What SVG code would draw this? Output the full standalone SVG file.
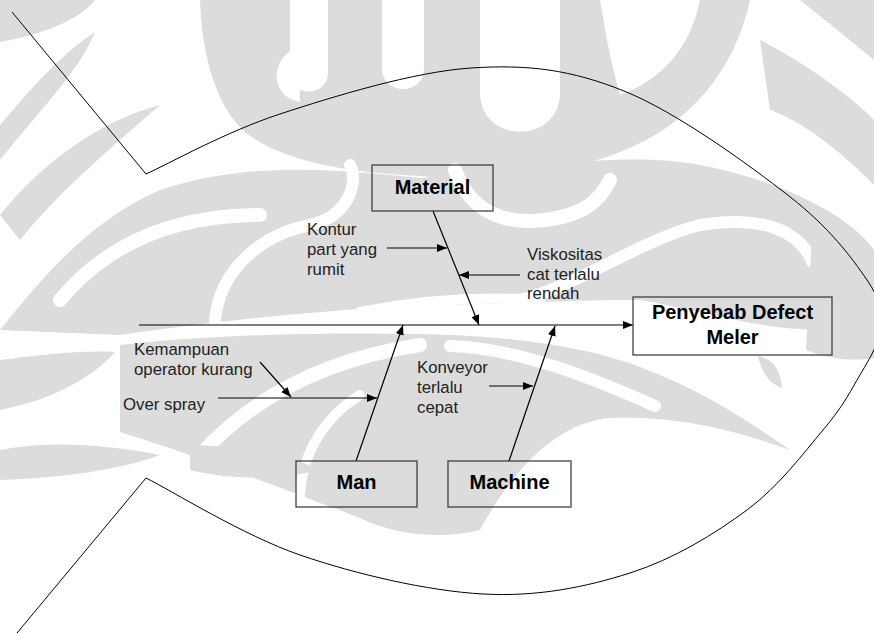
<svg xmlns="http://www.w3.org/2000/svg" width="874" height="634" viewBox="0 0 874 634">
  <defs>
    <marker id="arrow" viewBox="0 0 10 8" refX="10" refY="4" markerWidth="10" markerHeight="8" markerUnits="userSpaceOnUse" orient="auto">
      <path d="M0,0 L10,4 L0,8 Z" fill="#000"/>
    </marker>
    <style>
      .wm { fill: #dcdcdc; stroke: none; }
      .wm-gap { fill: none; stroke: #fff; stroke-linecap: round; }
      .wm-cut { fill: #fff; stroke: none; }
      .outline { fill: none; stroke: #000; stroke-width: 1; }
      .bone { fill: none; stroke: #000; stroke-width: 1.2; marker-end: url(#arrow); }
      .box { fill: none; stroke: #333; stroke-width: 1.2; }
      .title { font-family: "Liberation Sans", Arial, sans-serif; font-weight: bold; font-size: 20px; fill: #000; text-anchor: middle; }
      .cause { font-family: "Liberation Sans", Arial, sans-serif; font-size: 16.8px; fill: #222; }
    </style>
  </defs>
  <rect width="874" height="634" fill="#fff"/>

  <!-- background emblem, light grey -->
  <g id="watermark">
    <!-- crown -->
    <path class="wm" d="M200,0 L750,0 C735,70 690,125 620,152 C560,176 480,182 420,176 C340,172 280,160 245,132 C215,105 202,55 200,0 Z"/>
    <path class="wm-cut" d="M290,0 L328,0 L328,72 C328,98 290,98 290,72 Z"/>
    <path class="wm-cut" d="M382,0 L424,0 L424,68 C424,96 382,96 382,68 Z"/>
    <path class="wm-cut" d="M480,0 L560,0 L560,92 C560,145 480,145 480,92 Z"/>
    <path class="wm-cut" d="M600,0 L700,0 C690,50 660,80 620,95 C610,60 605,30 600,0 Z"/>
    <path class="wm-cut" d="M300,48 C272,52 266,96 300,102 Z"/>
    <!-- upper left leaves -->
    <path class="wm" d="M0,0 L95,0 C80,20 40,35 0,42 Z"/>
    <path class="wm" d="M0,125 C30,90 60,55 95,32 C80,70 40,110 0,160 Z"/>
    <path class="wm" d="M0,215 C40,165 100,120 160,105 C120,140 60,190 20,240 Z"/>
    <!-- upper right sweep -->
    <path class="wm" d="M760,40 C800,60 850,95 874,120 L874,185 C840,150 800,120 770,110 Z"/>
    <path class="wm" d="M800,0 L874,0 L874,60 C850,40 825,20 800,0 Z"/>
    <!-- middle band (eyes) -->
    <path class="wm" d="M0,330 C40,280 90,220 160,190 C250,160 340,170 420,178 C520,170 620,150 700,165 C780,180 850,215 874,250 L874,320 C860,330 840,335 820,330 C760,330 700,310 640,300 C560,300 480,305 420,305 C330,310 220,320 120,335 Z"/>
    <path class="wm-gap" stroke-width="14" d="M60,300 C110,240 180,215 260,215"/>
    <path class="wm-gap" stroke-width="12" d="M215,320 C220,270 260,235 310,225 C345,218 360,185 350,165"/>
    <path class="wm-gap" stroke-width="14" d="M455,170 C470,210 500,225 545,220 C585,215 600,200 610,180"/>
    <path class="wm-gap" stroke-width="12" d="M520,300 C580,285 640,240 700,225 C760,215 800,230 812,262"/>
    <path class="wm-gap" stroke-width="10" d="M360,312 C420,300 480,296 540,300"/>
    <!-- right curl beside the effect box -->
    <path class="wm" d="M812,232 C850,238 874,262 874,300 L874,358 C850,362 825,358 806,350 Z"/>
    <path class="wm" d="M760,198 C780,196 800,202 806,216 C790,222 772,220 760,214 Z"/>
    <path class="wm" d="M758,356 C770,358 780,366 782,388 C770,384 762,374 758,356 Z"/>
    <!-- lower jaw -->
    <path class="wm" d="M120,345 C200,336 300,332 420,334 C520,336 600,348 660,375 C720,400 760,430 790,450 C740,432 680,415 610,418 C560,422 515,465 480,530 C440,540 395,535 360,518 C300,495 210,460 120,432 Z"/>
    <path class="wm-gap" stroke-width="14" d="M200,455 C250,400 320,360 420,345"/>
    <path class="wm-gap" stroke-width="12" d="M450,346 C510,348 575,370 655,406"/>
    <path class="wm-gap" stroke-width="10" d="M300,500 C300,460 320,420 360,395"/>
    <!-- lower left flames -->
    <path class="wm" d="M0,360 C40,355 80,350 115,352 C90,380 50,400 0,410 Z"/>
    <path class="wm" d="M0,450 C50,440 110,445 160,455 C120,470 60,478 0,480 Z"/>
    <path class="wm" d="M190,445 C230,445 290,455 320,470 C280,480 230,480 190,470 Z"/>
  </g>

  <!-- fish outline: tail lines and body -->
  <g id="fish">
    <path class="outline" d="M12,12 L146,174"/>
    <path class="outline" d="M146,478 L17,633"/>
    <path class="outline" d="M146,174 C168.3,164 225.8,131.7 280,114 C334.2,96.3 413.7,71.8 471,68 C528.3,64.2 571,69.7 624,91 C677,112.3 748.5,164.5 789,196 C829.5,227.5 851.8,257.7 867,280 C882.2,302.3 881.7,313.3 880,330 C878.3,346.7 866.5,363.3 857,380 C847.5,396.7 841.3,408.3 823,430 C804.7,451.7 779.2,486.2 747,510 C714.8,533.8 674,559 630,573 C586,587 538,597 483,594 C428,591 356.2,574.3 300,555 C243.8,535.7 171.7,490.8 146,478"/>
  </g>

  <!-- connectors -->
  <g id="connectors">
    <line class="bone" x1="139" y1="325" x2="633" y2="325"/>
    <line class="bone" x1="433" y1="211" x2="479" y2="325"/>
    <line class="bone" x1="356" y1="461" x2="403" y2="325"/>
    <line class="bone" x1="509" y1="461" x2="555" y2="326"/>
    <line class="bone" x1="387" y1="248" x2="447" y2="248"/>
    <line class="bone" x1="520" y1="275" x2="459" y2="275"/>
    <line class="bone" x1="218" y1="398" x2="377" y2="398"/>
    <line class="bone" x1="260" y1="362" x2="291" y2="397"/>
    <line class="bone" x1="489" y1="386" x2="533" y2="386"/>
  </g>

  <g id="effect">
    <rect class="box" x="633" y="297" width="199" height="58"/>
    <text class="title" x="732.5" y="319">Penyebab Defect</text>
    <text class="title" x="732.5" y="344">Meler</text>
  </g>

  <g id="material">
    <rect class="box" x="372" y="165" width="121" height="46"/>
    <text class="title" x="432.5" y="194">Material</text>
  </g>

  <g id="man">
    <rect class="box" x="296" y="461" width="121" height="46"/>
    <text class="title" x="356.5" y="489">Man</text>
  </g>

  <g id="machine">
    <rect class="box" x="448" y="461" width="123" height="46"/>
    <text class="title" x="509.5" y="489">Machine</text>
  </g>

  <g id="cause-kontur">
    <text class="cause" x="307" y="235">Kontur</text>
    <text class="cause" x="307" y="255">part yang</text>
    <text class="cause" x="307" y="275">rumit</text>
  </g>

  <g id="cause-viskositas">
    <text class="cause" x="527" y="260">Viskositas</text>
    <text class="cause" x="527" y="280">cat terlalu</text>
    <text class="cause" x="527" y="299">rendah</text>
  </g>

  <g id="cause-kemampuan">
    <text class="cause" x="134" y="355">Kemampuan</text>
    <text class="cause" x="134" y="375">operator kurang</text>
  </g>

  <g id="cause-overspray">
    <text class="cause" x="123" y="410">Over spray</text>
  </g>

  <g id="cause-konveyor">
    <text class="cause" x="417" y="373">Konveyor</text>
    <text class="cause" x="417" y="393">terlalu</text>
    <text class="cause" x="417" y="413">cepat</text>
  </g>
</svg>
